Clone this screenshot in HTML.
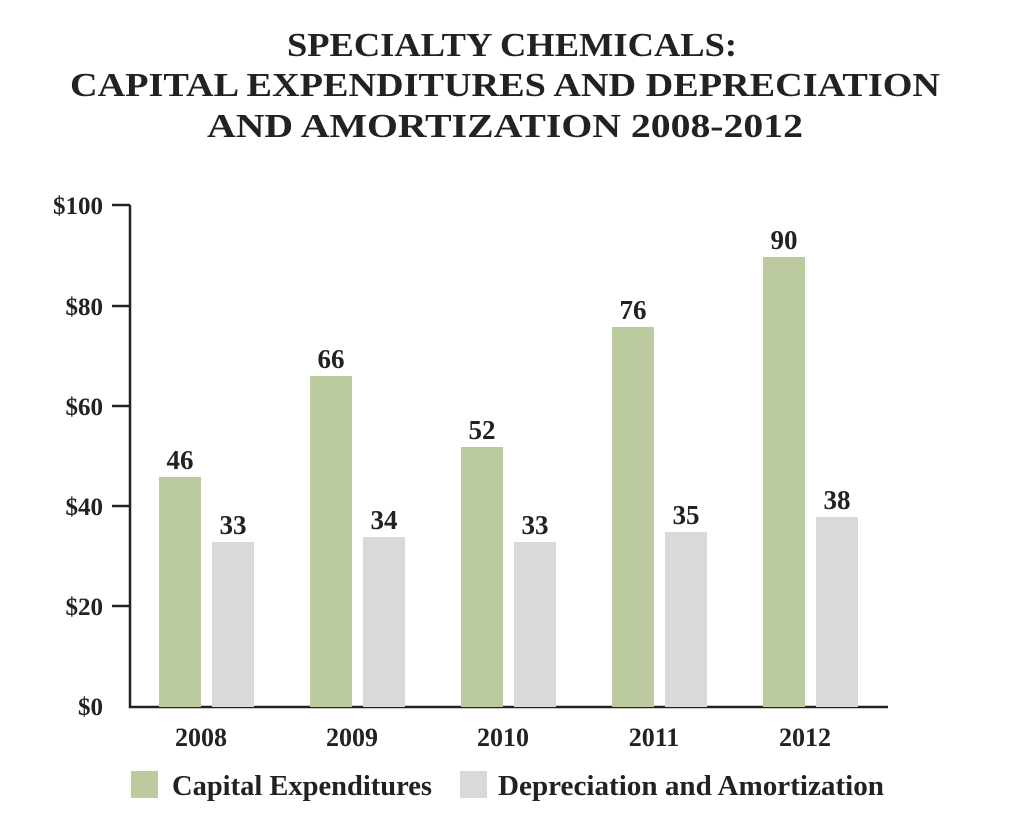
<!DOCTYPE html>
<html><head><style>
body{margin:0;background:#fff;}
svg text{font-family:"Liberation Serif",serif;font-weight:bold;fill:#222;}
</style></head><body>
<svg width="1022" height="828" xmlns="http://www.w3.org/2000/svg">
<g font-size="34" text-anchor="middle">
<text x="512" y="56" textLength="450" lengthAdjust="spacingAndGlyphs">SPECIALTY CHEMICALS:</text>
<text x="505" y="96" textLength="870" lengthAdjust="spacingAndGlyphs">CAPITAL EXPENDITURES AND DEPRECIATION</text>
<text x="505" y="137" textLength="596" lengthAdjust="spacingAndGlyphs">AND AMORTIZATION 2008-2012</text>
</g>
<g stroke="#222" stroke-width="2.5">
<line x1="130" y1="205" x2="130" y2="708"/>
<line x1="129" y1="707" x2="888" y2="707"/>
<line x1="112" y1="205" x2="130" y2="205"/>
<line x1="112" y1="306" x2="130" y2="306"/>
<line x1="112" y1="406" x2="130" y2="406"/>
<line x1="112" y1="506" x2="130" y2="506"/>
<line x1="112" y1="606" x2="130" y2="606"/>
</g>
<g font-size="25" text-anchor="end">
<text x="103" y="214">$100</text>
<text x="103" y="315">$80</text>
<text x="103" y="415">$60</text>
<text x="103" y="515">$40</text>
<text x="103" y="615">$20</text>
<text x="103" y="715">$0</text>
</g>
<g>
<rect x="159" y="477" width="42" height="230" fill="#bccb9e"/>
<rect x="212" y="542" width="42" height="165" fill="#d9d9d9"/>
<rect x="310" y="376" width="42" height="331" fill="#bccb9e"/>
<rect x="363" y="537" width="42" height="170" fill="#d9d9d9"/>
<rect x="461" y="447" width="42" height="260" fill="#bccb9e"/>
<rect x="514" y="542" width="42" height="165" fill="#d9d9d9"/>
<rect x="612" y="327" width="42" height="380" fill="#bccb9e"/>
<rect x="665" y="532" width="42" height="175" fill="#d9d9d9"/>
<rect x="763" y="257" width="42" height="450" fill="#bccb9e"/>
<rect x="816" y="517" width="42" height="190" fill="#d9d9d9"/>
</g>
<g font-size="27" text-anchor="middle">
<text x="180" y="469">46</text><text x="233" y="534">33</text>
<text x="331" y="368">66</text><text x="384" y="529">34</text>
<text x="482" y="439">52</text><text x="535" y="534">33</text>
<text x="633" y="319">76</text><text x="686" y="524">35</text>
<text x="784" y="249">90</text><text x="837" y="509">38</text>
</g>
<g font-size="26" text-anchor="middle">
<text x="201" y="746">2008</text>
<text x="352" y="746">2009</text>
<text x="503" y="746">2010</text>
<text x="654" y="746">2011</text>
<text x="805" y="746">2012</text>
</g>
<rect x="131" y="771" width="27" height="27" fill="#bccb9e"/>
<rect x="460" y="771" width="27" height="27" fill="#d9d9d9"/>
<g font-size="28">
<text x="172" y="795" textLength="260" lengthAdjust="spacingAndGlyphs">Capital Expenditures</text>
<text x="498" y="795" textLength="386" lengthAdjust="spacingAndGlyphs">Depreciation and Amortization</text>
</g>
</svg>
</body></html>
